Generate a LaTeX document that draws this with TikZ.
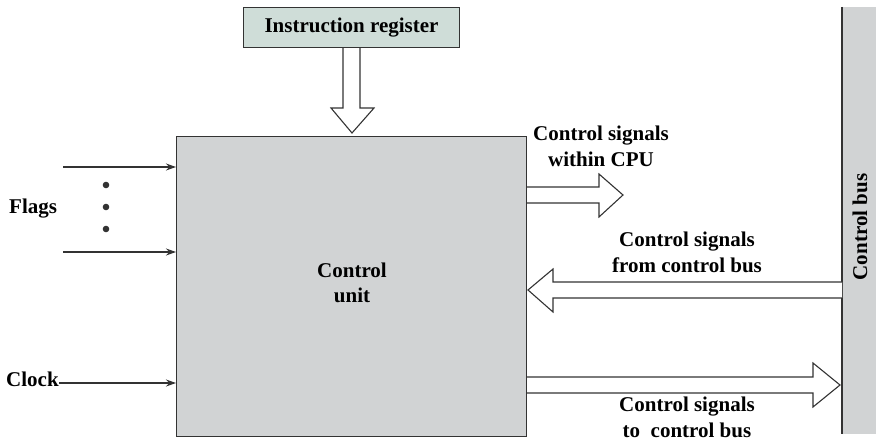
\documentclass[tikz,border=0pt]{standalone}
\usepackage{fontspec}
\setmainfont{Liberation Serif}
\usetikzlibrary{arrows.meta,calc}
\definecolor{lc}{HTML}{333333}
\definecolor{cugray}{HTML}{D1D3D4}
\definecolor{irgreen}{HTML}{CFDDD8}
\begin{document}
\begin{tikzpicture}[x=1pt,y=-1pt,
  lbl/.style={font=\fontsize{21}{26}\selectfont\bfseries, align=center, inner sep=0pt},
  ln/.style={draw=lc, line width=1.1pt},
  box/.style={ln, inner sep=0pt, anchor=north west},
  thinarrow/.style={ln, -{Stealth[length=10pt,width=7pt]}},
  hollow/.style={ln, fill=white, line join=miter}]
\useasboundingbox (0,0) rectangle (876,443);
% boxes
\node[box, fill=irgreen, minimum width=216pt, minimum height=40pt] (ir) at (243,7) {};
\node[lbl] (irtext) at (ir.center) {Instruction register};
\node[box, fill=cugray, minimum width=350pt, minimum height=300pt] (cu) at (176,136) {};
\node[lbl, anchor=base, font=\fontsize{21}{25}\selectfont\bfseries] (cutext) at (352,303) {Control\\unit};
\node[fill=cugray, inner sep=0pt, anchor=north west, minimum width=40pt, minimum height=427pt] (bus) at (842,7) {};
\draw[ln] (bus.north west) -- (bus.south west);
\node[lbl, rotate=90] (bustext) at (860,227) {Control bus};
% inputs
\node[lbl, anchor=base west] (flags) at (9,214) {Flags};
\node[lbl, anchor=base west] (clock) at (6,387) {Clock};
\coordinate (f1) at (63,167);
\coordinate (f2) at (63,252);
\coordinate (ck) at (clock.east |- 0,383);
\draw[thinarrow] (f1) -- (cu.west |- f1);
\draw[thinarrow] (f2) -- (cu.west |- f2);
\draw[thinarrow] (ck) -- (cu.west |- ck);
\fill[lc] (106,185) circle (3.3pt) (106,207) circle (3.3pt) (106,229) circle (3.3pt);
% hollow arrows
\draw[hollow] (ir.south -| 343,0) -- (343,108) -- (331,108) -- (352,133) -- (374,108) -- (360,108) -- (ir.south -| 360,0);
\draw[hollow] (cu.east |- 0,187) -- (599,187) -- (599,174) -- (623,195) -- (599,217) -- (599,203) -- (cu.east |- 0,203);
\draw[hollow] (bus.west |- 0,282) -- (553,282) -- (553,269) -- (528,290) -- (553,312) -- (553,298) -- (bus.west |- 0,298);
\draw[hollow] (cu.east |- 0,377) -- (813,377) -- (813,363) -- (840,385) -- (813,407) -- (813,393) -- (cu.east |- 0,393);
% labels
\node[lbl, anchor=base] (l1) at (601,167) {Control signals\\within CPU};
\node[lbl, anchor=base] (l2) at (687,273) {Control signals\\from control bus};
\node[lbl, anchor=base] (l3) at (687,438) {Control signals\\to\ \ control bus};
\end{tikzpicture}
\end{document}
